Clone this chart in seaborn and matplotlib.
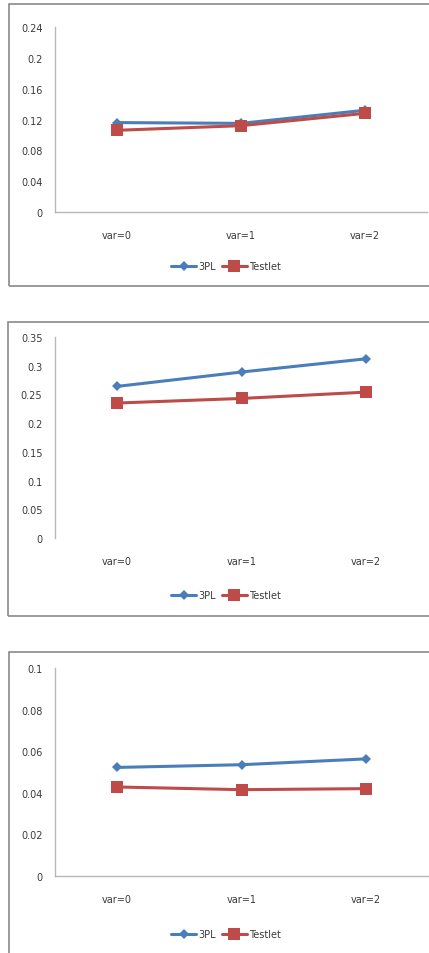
import matplotlib
matplotlib.use("Agg")
import matplotlib.pyplot as plt
from matplotlib.lines import Line2D
from matplotlib.patches import Rectangle
import pandas as pd
import seaborn as sns

sns.set_theme(style="white")
plt.rcParams["font.family"] = ["DejaVu Sans"]

# Data
conditions = ["var=0", "var=1", "var=2"]
series_names = ["3PL", "Testlet"]

panel1_3pl = [0.116, 0.115, 0.132]
panel1_testlet = [0.106, 0.112, 0.128]
panel1_ticks = [0, 0.04, 0.08, 0.12, 0.16, 0.2, 0.24]
panel1_ticklabels = ["0", "0.04", "0.08", "0.12", "0.16", "0.2", "0.24"]

panel2_3pl = [0.264, 0.289, 0.312]
panel2_testlet = [0.235, 0.243, 0.254]
panel2_ticks = [0, 0.05, 0.1, 0.15, 0.2, 0.25, 0.3, 0.35]
panel2_ticklabels = ["0", "0.05", "0.1", "0.15", "0.2", "0.25", "0.3", "0.35"]

panel3_3pl = [0.0522, 0.0535, 0.0563]
panel3_testlet = [0.0428, 0.0415, 0.0420]
panel3_ticks = [0, 0.02, 0.04, 0.06, 0.08, 0.1]
panel3_ticklabels = ["0", "0.02", "0.04", "0.06", "0.08", "0.1"]

W, H = 429, 954
BLUE = "#4A7EBB"
RED = "#BE4B48"
FRAME = "#8a8a8a"
AXIS = "#b8b8b8"
TEXT = "#3a3a3a"

fig = plt.figure(figsize=(W / 100, H / 100), dpi=100)
fig.patch.set_facecolor("white")


def frac_rect(x0, y0, x1, y1):
    """Pixel box (top-left origin) to figure-fraction [left, bottom, width, height]."""
    return [x0 / W, 1 - y1 / H, (x1 - x0) / W, (y1 - y0) / H]


def draw_panel(box, vals_3pl, vals_testlet, ticks, ticklabels, show_bottom,
               legend_y, frame_box):
    # outer chart-area frame
    fx0, fy0, fx1, fy1 = frame_box
    fig.add_artist(Rectangle((fx0 / W, 1 - fy1 / H), (fx1 - fx0) / W, (fy1 - fy0) / H,
                             transform=fig.transFigure, fill=False,
                             edgecolor=FRAME, linewidth=1.2))

    ax = fig.add_axes(frac_rect(*box))
    df = pd.DataFrame({
        "condition": conditions * 2,
        "value": list(vals_3pl) + list(vals_testlet),
        "model": [series_names[0]] * 3 + [series_names[1]] * 3,
    })
    sns.lineplot(data=df[df["model"] == "3PL"], x="condition", y="value",
                 color=BLUE, marker="D", markersize=5, linewidth=2.2,
                 markeredgewidth=0, ax=ax, legend=False)
    sns.lineplot(data=df[df["model"] == "Testlet"], x="condition", y="value",
                 color=RED, marker="s", markersize=8, linewidth=2.2,
                 markeredgewidth=0, ax=ax, legend=False)

    ax.set_xlim(-0.5, 2.5)
    ax.set_ylim(ticks[0], ticks[-1])
    ax.set_yticks(ticks)
    ax.set_yticklabels(ticklabels)
    ax.set_xlabel("")
    ax.set_ylabel("")
    ax.tick_params(axis="both", length=0, labelsize=7, colors=TEXT)
    ax.tick_params(axis="x", pad=13)
    ax.tick_params(axis="y", pad=9)
    ax.set_facecolor("none")
    for side in ("top", "right"):
        ax.spines[side].set_visible(False)
    ax.spines["left"].set_color(AXIS)
    ax.spines["left"].set_linewidth(1.0)
    ax.spines["bottom"].set_color(AXIS if show_bottom else "none")
    ax.spines["bottom"].set_linewidth(1.0)

    handles = [
        Line2D([], [], color=BLUE, marker="D", markersize=5, linewidth=2.2,
               markeredgewidth=0),
        Line2D([], [], color=RED, marker="s", markersize=8, linewidth=2.2,
               markeredgewidth=0),
    ]
    fig.legend(handles, series_names, loc="center",
               bbox_to_anchor=(226 / W, 1 - legend_y / H), ncol=2, frameon=False,
               fontsize=7, handlelength=2.6, handletextpad=0.2, columnspacing=0.6,
               labelcolor=TEXT)
    return ax


draw_panel((55, 28, 427, 213), panel1_3pl, panel1_testlet, panel1_ticks,
           panel1_ticklabels, True, 267, (9, 5, 434, 287))
draw_panel((55, 338, 428, 539), panel2_3pl, panel2_testlet, panel2_ticks,
           panel2_ticklabels, False, 596, (8, 323, 434, 617))
draw_panel((55, 669, 428, 877), panel3_3pl, panel3_testlet, panel3_ticks,
           panel3_ticklabels, True, 935, (9, 653, 434, 962))

fig.savefig("out.png", dpi=100, facecolor="white")
